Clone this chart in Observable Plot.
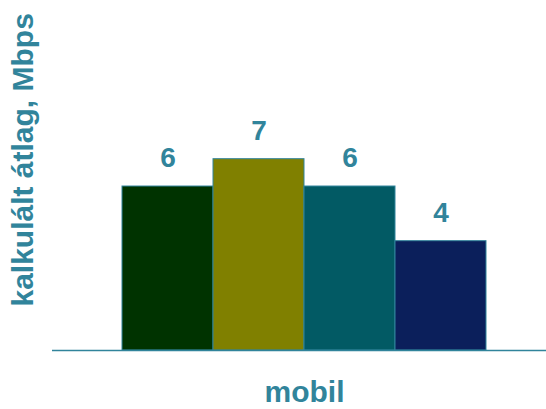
<!DOCTYPE html>
<html>
<head>
<meta charset="utf-8">
<script src="https://cdn.jsdelivr.net/npm/d3@7"></script>
<script src="https://cdn.jsdelivr.net/npm/@observablehq/plot@0.6"></script>
<style>
  html, body { margin: 0; padding: 0; background: #fff; }
  #chart svg { display: block; }
</style>
</head>
<body>
<div id="chart"></div>
<script>
const categories = ["s1", "s2", "s3", "s4"];
const values = [6, 7, 6, 4];
const valueLabels = ["6", "7", "6", "4"];
const colors = ["#003300", "#808000", "#025a64", "#0b1f5b"];
const groupLabel = "mobil";
const yLabel = "kalkulált átlag, Mbps";

const data = categories.map((c, i) => ({cat: c, value: values[i], label: valueLabels[i]}));
const textColor = "#31849b";
const font = "Liberation Sans, Arial, sans-serif";

const chart = Plot.plot({
  width: 546,
  height: 409,
  marginLeft: 52,
  marginRight: 0,
  marginTop: 76.7,
  marginBottom: 59,
  style: {fontFamily: font, background: "#fff"},
  x: {type: "band", domain: categories, paddingInner: 0, paddingOuter: 0.7, align: 0.54, axis: null},
  y: {domain: [0, 10], axis: null},
  color: {domain: categories, range: colors},
  marks: [
    Plot.barY(data, {x: "cat", y: "value", fill: "cat", stroke: textColor, strokeWidth: 1}),
    Plot.ruleY([0], {stroke: textColor, strokeWidth: 1.5}),
    Plot.text(data, {x: "cat", y: "value", text: "label", dy: -28, fill: textColor, fontSize: 28, fontWeight: "bold", lineAnchor: "middle"}),
    Plot.text([groupLabel], {frameAnchor: "bottom", text: d => d, dx: 5, dy: 42, fill: textColor, fontSize: 30, fontWeight: "bold", lineAnchor: "middle", textAnchor: "middle"}),
    Plot.text([yLabel], {frameAnchor: "left", text: d => d, rotate: -90, dx: -29, dy: -54, fill: textColor, fontSize: 30, fontWeight: "bold", lineAnchor: "middle", textAnchor: "middle"})
  ]
});
document.getElementById("chart").appendChild(chart);
</script>
</body>
</html>
